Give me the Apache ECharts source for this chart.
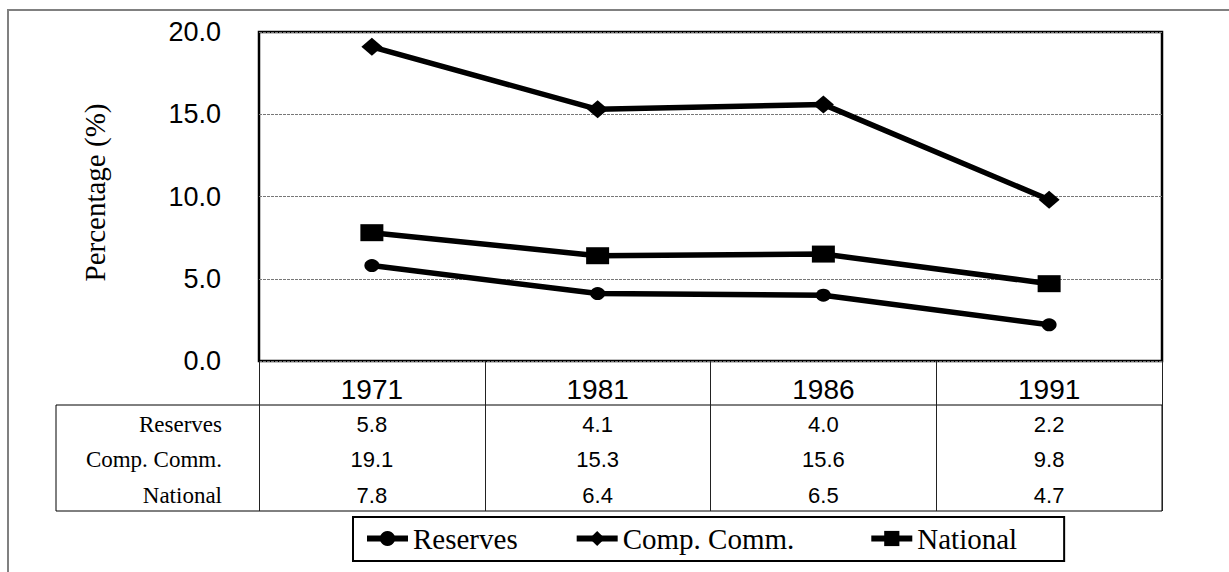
<!DOCTYPE html>
<html>
<head>
<meta charset="utf-8">
<script src="https://cdn.jsdelivr.net/npm/echarts@6/dist/echarts.min.js"></script>
<style>
  html, body { margin: 0; padding: 0; background: #fff; }
  #chart { width: 1229px; height: 572px; }
</style>
</head>
<body>
<div id="chart"></div>
<script>
const years = ['1971', '1981', '1986', '1991'];
const reserves = [5.8, 4.1, 4.0, 2.2];
const compComm = [19.1, 15.3, 15.6, 9.8];
const national = [7.8, 6.4, 6.5, 4.7];
const yTicks = { min: 0, max: 20, interval: 5 };

const rows = [
  { name: 'Reserves', values: reserves, symbol: 'circle', size: [15, 13] },
  { name: 'Comp. Comm.', values: compComm, symbol: 'diamond', size: [21, 18] },
  { name: 'National', values: national, symbol: 'rect', size: [23, 17] },
];

const sans = '"Liberation Sans", Arial, sans-serif';
const serif = '"Liberation Serif", "Times New Roman", serif';

// plot box and data table layout
const plot = { left: 259, top: 32, width: 903, height: 329 };
const tableLeft = 56;
const tableBottom = 511;
const yearRow = 44;
const rowOffsets = [63, 98, 134];

const chart = echarts.init(document.getElementById('chart'), null, { renderer: 'svg' });

const tableAxes = rows.map((row, i) => ({
  type: 'category',
  data: years,
  position: 'bottom',
  offset: rowOffsets[i],
  axisLine: { show: false },
  axisTick: { show: false },
  axisLabel: {
    formatter: (v, idx) => row.values[idx].toFixed(1),
    verticalAlign: 'middle',
    margin: 0,
    color: '#000',
    fontFamily: sans,
    fontSize: 22,
  },
  name: row.name,
  nameLocation: 'start',
  nameGap: 37,
  nameTextStyle: { color: '#000', fontFamily: serif, fontSize: 23 },
}));

const plotBottom = plot.top + plot.height;

chart.setOption({
  animation: false,
  backgroundColor: '#fff',
  grid: {
    ...plot,
    show: true,
    borderColor: '#000',
    borderWidth: 2.5,
    backgroundColor: 'transparent',
  },
  graphic: [
    {
      type: 'rect',
      shape: { x: 8, y: 10, width: 1300, height: 700 },
      style: { fill: 'none', stroke: '#808080', lineWidth: 2 },
      silent: true,
    },
    {
      type: 'rect',
      shape: {
        x: tableLeft,
        y: plotBottom + yearRow,
        width: plot.left + plot.width - tableLeft,
        height: tableBottom - plotBottom - yearRow,
      },
      style: { fill: 'none', stroke: '#000', lineWidth: 1 },
      silent: true,
    },
  ],
  legend: {
    data: rows.map((r) => r.name),
    left: 353,
    top: 517,
    orient: 'horizontal',
    itemWidth: 41,
    itemHeight: 19,
    itemGap: 56,
    padding: [6, 47, 7, 11],
    borderColor: '#000',
    borderWidth: 2,
    backgroundColor: '#fff',
    lineStyle: { width: 6 },
    formatter: (name) => (name === 'Comp. Comm.' ? `{wide|${name}}` : name),
    textStyle: {
      color: '#000',
      fontFamily: serif,
      fontSize: 29,
      lineHeight: 31,
      rich: {
        wide: { color: '#000', fontFamily: serif, fontSize: 29, lineHeight: 31, padding: [0, 18, 0, 0] },
      },
    },
  },
  xAxis: [
    {
      type: 'category',
      data: years,
      boundaryGap: true,
      axisLine: { show: false },
      axisTick: {
        show: true,
        interval: 0,
        length: tableBottom - plotBottom,
        lineStyle: { color: '#222', width: 1 },
      },
      axisLabel: {
        color: '#000',
        fontFamily: sans,
        fontSize: 28,
        verticalAlign: 'middle',
        margin: 28,
      },
    },
    ...tableAxes,
  ],
  yAxis: {
    type: 'value',
    ...yTicks,
    name: 'Percentage (%)',
    nameLocation: 'middle',
    nameGap: 150,
    nameRotate: 90,
    nameTextStyle: { color: '#000', fontFamily: serif, fontSize: 29, padding: [0, 0, 0, 8] },
    axisLine: { show: false },
    axisTick: { show: false },
    axisLabel: {
      formatter: (v) => v.toFixed(1),
      color: '#000',
      fontFamily: sans,
      fontSize: 27,
      margin: 38,
    },
    splitLine: {
      show: true,
      lineStyle: { color: '#777', width: 1, type: [3, 1] },
    },
  },
  series: rows.map((row) => ({
    name: row.name,
    type: 'line',
    data: row.values,
    xAxisIndex: 0,
    symbol: row.symbol,
    symbolSize: row.size,
    showAllSymbol: true,
    color: '#000',
    lineStyle: { color: '#000', width: 5.5 },
    itemStyle: { color: '#000' },
  })),
});
</script>
</body>
</html>
